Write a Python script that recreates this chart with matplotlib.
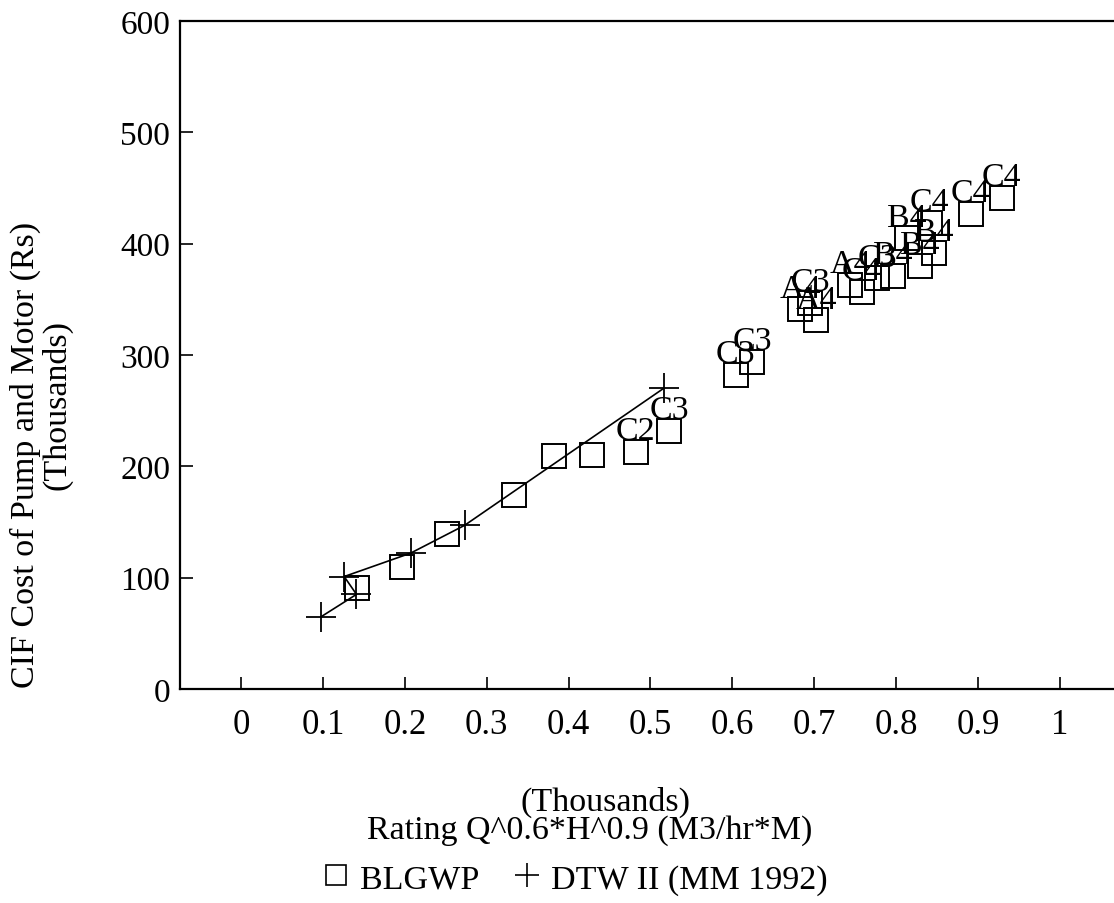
import matplotlib
matplotlib.use("Agg")
import matplotlib.pyplot as plt
from matplotlib.lines import Line2D

plt.rcParams['font.family'] = ['Liberation Serif', 'DejaVu Serif']

# BLGWP pumps (rating in thousands, cost in thousands Rs) with their labels
blg_x = [0.142, 0.197, 0.252, 0.333, 0.382, 0.429, 0.482, 0.523, 0.604, 0.624,
         0.683, 0.695, 0.702, 0.744, 0.758, 0.777, 0.796, 0.829, 0.813, 0.846,
         0.841, 0.891, 0.929]
blg_y = [91, 110, 139, 174, 209, 210, 213, 232, 282, 294,
         341, 347, 331, 363, 357, 369, 371, 380, 405, 392,
         419, 427, 441]
blg_lab = ["", "", "", "", "", "", "C2", "C3", "C3", "C3",
           "A4", "C3", "A4", "A4", "C4", "C3", "B4", "B4", "B4", "B4",
           "C4", "C4", "C4"]

# DTW II (MM 1992) points, in drawing order
dtw_x = [0.098, 0.141, 0.126, 0.207, 0.273, 0.516]
dtw_y = [65, 85, 101, 122, 147, 270]

xticks = [0, 0.1, 0.2, 0.3, 0.4, 0.5, 0.6, 0.7, 0.8, 0.9, 1]
xtick_labels = ["0", "0.1", "0.2", "0.3", "0.4", "0.5", "0.6", "0.7", "0.8", "0.9", "1"]
yticks = [0, 100, 200, 300, 400, 500, 600]

fs = 24.5
fig = plt.figure(figsize=(11.14, 9.04), dpi=100)
ax = fig.add_axes([180/1114, 214/904, 934/1114, 668/904])

ax.plot(dtw_x, dtw_y, color='black', lw=1.2, marker='+', ms=22, mew=1.3)
ax.plot(blg_x, blg_y, ls='none', marker='s', ms=17, mfc='none', mec='black', mew=1.4)
for x, y, t in zip(blg_x, blg_y, blg_lab):
    if t:
        ax.annotate(t, (x, y), xytext=(0, 15), textcoords='offset points',
                    ha='center', va='center', fontsize=fs)

ax.set_xlim(-0.0745, 1.066)
ax.set_ylim(0, 600)
ax.set_xticks(xticks)
ax.set_xticklabels(xtick_labels)
ax.set_yticks(yticks)
ax.tick_params(direction='in', length=9, width=1.2)
ax.tick_params(axis='x', pad=14, labelsize=25)
ax.tick_params(axis='y', pad=7, labelsize=24)
ax.spines['right'].set_visible(False)
for s in ['left', 'bottom', 'top']:
    ax.spines[s].set_linewidth(1.6)

fig.text(25/1114, 1 - 455/904, "CIF Cost of Pump and Motor (Rs)", rotation=90,
         ha='center', va='center', fontsize=fs)
fig.text(57/1114, 1 - 405/904, "(Thousands)", rotation=90,
         ha='center', va='center', fontsize=fs)

fig.text(605/1114, 1 - 802/904, "(Thousands)", ha='center', va='center', fontsize=fs)
fig.text(590/1114, 1 - 831/904, "Rating Q^0.6*H^0.9 (M3/hr*M)", ha='center', va='center', fontsize=fs)

handles = [Line2D([], [], ls='none', marker='s', ms=14, mfc='none', mec='black', mew=1.2),
           Line2D([], [], ls='none', marker='+', ms=17, mec='black', mew=1.2)]
fig.legend(handles, ["BLGWP", "DTW II (MM 1992)"], loc='center',
           bbox_to_anchor=(575/1114, 1 - 880/904), ncol=2, frameon=False,
           fontsize=fs, handlelength=0.8, handletextpad=0.3, columnspacing=1.0)

fig.savefig("out.png", dpi=100)
